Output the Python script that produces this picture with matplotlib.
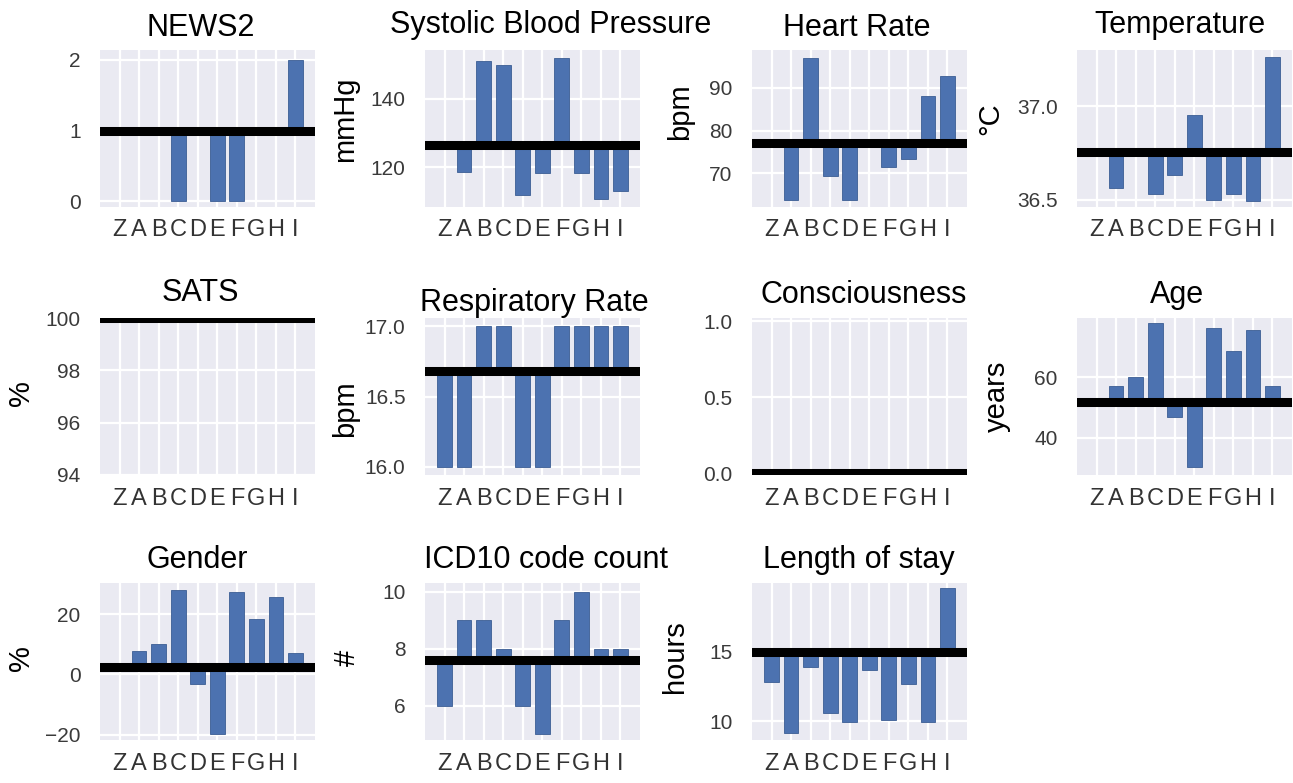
import numpy as np
import matplotlib
matplotlib.use('Agg')
from matplotlib import pyplot as plt
import seaborn as sns

sns.set_style('darkgrid')
plt.rcParams['font.family'] = ['Liberation Sans', 'DejaVu Sans']

cats = ['Z', 'A', 'B', 'C', 'D', 'E', 'F', 'G', 'H', 'I']

# values per category, ref = where the black line sits
news2 = [1, 1, 1, 0, 1, 0, 0, 1, 1, 2]
news2_ref = 1
sbp = [126.6, 118.7, 151.2, 150.0, 111.8, 118.2, 151.9, 118.2, 110.6, 113.0]
sbp_ref = 126.6
hr = [77.1, 63.8, 97.0, 69.3, 63.8, 77.1, 71.4, 73.3, 88.1, 92.9]
hr_ref = 77.1
temp = [36.755, 36.56, 36.755, 36.53, 36.63, 36.95, 36.50, 36.53, 36.49, 37.26]
temp_ref = 36.755
sats = [100, 100, 100, 100, 100, 100, 100, 100, 100, 100]
sats_ref = 100
rr = [16, 16, 17, 17, 16, 16, 17, 17, 17, 17]
rr_ref = 16.68
consc = [0, 0, 0, 0, 0, 0, 0, 0, 0, 0]
consc_ref = 0
age = [51.7, 57.2, 60.0, 77.8, 46.9, 30.3, 76.3, 68.7, 75.6, 57.2]
age_ref = 51.7
gender = [2.5, 7.9, 10.2, 28.0, -3.1, -19.7, 27.3, 18.5, 25.8, 7.2]
gender_ref = 2.5
icd10 = [6, 9, 9, 8, 6, 5, 9, 10, 8, 8]
icd10_ref = 7.59
los = [12.8, 9.16, 13.9, 10.57, 9.95, 13.7, 10.07, 12.7, 9.95, 19.6]
los_ref = 14.95

titles = ['NEWS2', 'Systolic Blood Pressure', 'Heart Rate', 'Temperature',
          'SATS', 'Respiratory Rate', 'Consciousness', 'Age',
          'Gender', 'ICD10 code count', 'Length of stay']
units = ['', 'mmHg', 'bpm', '°C', '%', 'bpm', '', 'years', '%', '#', 'hours']
series = [news2, sbp, hr, temp, sats, rr, consc, age, gender, icd10, los]
refs = [news2_ref, sbp_ref, hr_ref, temp_ref, sats_ref, rr_ref, consc_ref,
        age_ref, gender_ref, icd10_ref, los_ref]
ylims = [(-0.08, 2.14), (108.4, 154.3), (62.1, 98.9), (36.46, 37.30),
         (94, 100), (15.94, 17.06), (-0.01, 1.02), (27.8, 79.5),
         (-21.7, 30.3), (4.79, 10.3), (8.65, 19.95)]
yticks = [[0, 1, 2], [120, 140], [70, 80, 90], [36.5, 37.0],
          [94, 96, 98, 100], [16.0, 16.5, 17.0], [0.0, 0.5, 1.0], [40, 60],
          [-20, 0, 20], [6, 8, 10], [10, 15]]

# layout in pixels (figure is 1293 x 783)
W, H = 1293, 783
lefts = [100, 425, 752, 1077]
tops = [50, 318, 583]
aw, ah = 215, 157
# ylabel centre offset (px from axes left) and height fraction
lab_dx = [0, -80, -72, -87, -79, -80, 0, -80, -79, -78, -77]
lab_y = [0.5, 0.56, 0.61, 0.56, 0.52, 0.42, 0.5, 0.5, 0.52, 0.52, 0.53]
# small title shifts, px
tit_dx = [-7, 18, -3, -5, -7, 2, 4, -8, -10, 13, -1]
tit_pad = [10, 12, 10, 12, 12, 5, 11, 11, 11, 11, 11]

fig = plt.figure(figsize=(W / 100, H / 100), dpi=100)
x = np.arange(len(cats))

for i in range(len(titles)):
    r, c = i // 4, i % 4
    ax = fig.add_axes([lefts[c] / W, 1 - (tops[r] + ah) / H, aw / W, ah / H])
    ax.set_facecolor('#EAEAF2')
    vals = np.array(series[i], dtype=float)
    ref = refs[i]
    ax.bar(x, vals - ref, bottom=ref, width=0.75, color='#4C72B0',
           edgecolor='#3B5D94', linewidth=0.6, zorder=2)
    ax.axhline(ref, color='black', lw=6.5, zorder=3)
    ax.set_xlim(-1, 10)
    ax.set_ylim(*ylims[i])
    ax.set_xticks(x)
    ax.set_xticklabels(cats)
    ax.set_yticks(yticks[i])
    ax.grid(True, color='white', lw=1.6)
    ax.set_axisbelow(True)
    for s in ax.spines.values():
        s.set_visible(False)
    ax.tick_params(axis='x', length=0, pad=9, labelsize=17, labelcolor='#333333')
    ax.tick_params(axis='y', length=0, pad=14, labelsize=15, labelcolor='#3a3a3a')
    ax.set_title(titles[i], fontsize=22, color='black', pad=tit_pad[i],
                 x=0.5 + tit_dx[i] / aw)
    if units[i]:
        ax.set_ylabel(units[i], fontsize=21, color='black', ha='center', va='center')
        ax.yaxis.set_label_coords(lab_dx[i] / aw, lab_y[i])

plt.savefig('out.png', dpi=100)
